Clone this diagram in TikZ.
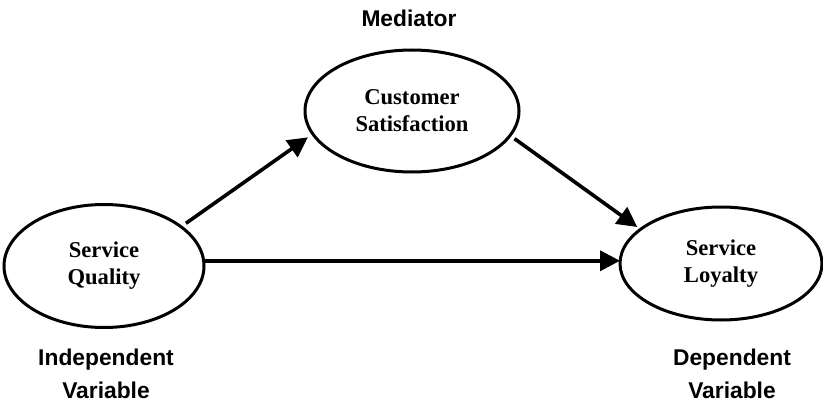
\documentclass[tikz,border=0pt]{standalone}
\usepackage{fontspec}
\setmainfont{Liberation Serif}
\setsansfont{Liberation Sans}
\usetikzlibrary{arrows.meta,shapes.geometric}

\begin{document}
\begin{tikzpicture}[x=0.5pt,y=0.5pt,
  var/.style={ellipse,draw,line width=1.5pt,inner sep=0pt,outer sep=0pt,align=center,font=\fontsize{11.3}{13.5}\selectfont\bfseries},
  role/.style={align=center,inner sep=0pt,font=\fontsize{11.4}{16.5}\selectfont\sffamily\bfseries},
  arr/.style={line width=1.8pt,-{Triangle[length=10pt,width=10pt]}}]
\useasboundingbox (0,0) rectangle (823,402);
\node[var,minimum width=107pt,minimum height=61pt] (med) at (412,291) {Customer\\Satisfaction};
\node[var,minimum width=100pt,minimum height=61.5pt] (sq) at (104,136) {Service\\Quality};
\node[var,minimum width=101pt,minimum height=56.5pt] (sl) at (721,138.5) {Service\\Loyalty};
\node[role] (medlab) at (409,383.5) {Mediator};
\node[role] (sqlab) at (106,28) {Independent\\Variable};
\node[role] (sllab) at (732,28) {Dependent\\Variable};
\draw[arr,shorten <=3pt,shorten >=3pt] (sq.27.5) -- (med.193);
\draw[arr,shorten <=2.75pt,shorten >=2pt] (med.346.4) -- (sl.157.1);
\draw[arr] (sq.3.5) -- (sq.3.5 -| sl.west);
\end{tikzpicture}
\end{document}
